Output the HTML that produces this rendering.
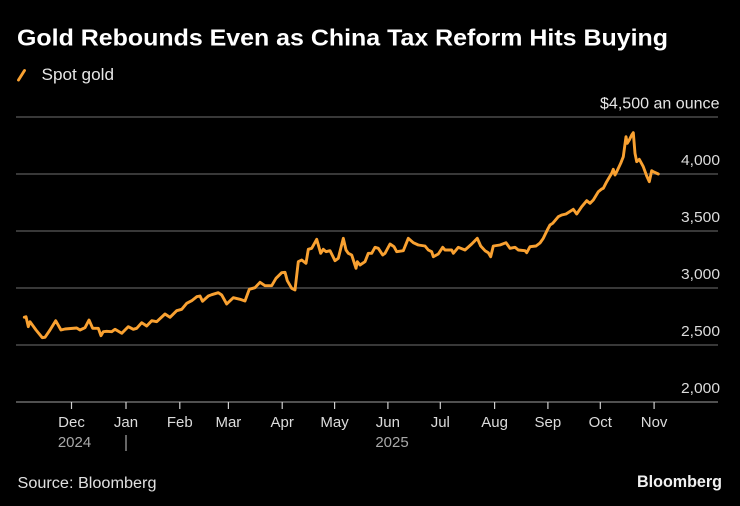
<!DOCTYPE html>
<html>
<head>
<meta charset="utf-8">
<style>
html,body{margin:0;padding:0;background:#000;}
svg{display:block;}
text{font-family:"Liberation Sans",sans-serif;}
</style>
</head>
<body>
<svg width="740" height="506" viewBox="0 0 740 506" xmlns="http://www.w3.org/2000/svg">
<rect width="740" height="506" fill="#000"/>
<text x="17" y="45.5" font-size="22.8" font-weight="bold" fill="#fff" textLength="651" lengthAdjust="spacingAndGlyphs">Gold Rebounds Even as China Tax Reform Hits Buying</text>
<line x1="18.5" y1="80" x2="24.5" y2="70.5" stroke="#f9a131" stroke-width="2.9" stroke-linecap="round"/>
<text x="41.5" y="80" font-size="16.3" fill="#e6e6e6" textLength="72.5" lengthAdjust="spacingAndGlyphs">Spot gold</text>
<text x="719.5" y="108.3" font-size="15.3" fill="#e6e6e6" text-anchor="end" textLength="119.5" lengthAdjust="spacingAndGlyphs">$4,500 an ounce</text>
<g stroke="#4a4a4a" stroke-width="1.6">
<line x1="16" y1="117" x2="718" y2="117"/>
<line x1="16" y1="174" x2="718" y2="174"/>
<line x1="16" y1="231" x2="718" y2="231"/>
<line x1="16" y1="288" x2="718" y2="288"/>
<line x1="16" y1="345" x2="718" y2="345"/>
</g>
<line x1="16" y1="402" x2="718" y2="402" stroke="#6a6a6a" stroke-width="1.6"/>
<g font-size="14.8" fill="#dcdcdc" text-anchor="end">
<text x="720" y="165" textLength="39" lengthAdjust="spacingAndGlyphs">4,000</text>
<text x="720" y="222" textLength="39" lengthAdjust="spacingAndGlyphs">3,500</text>
<text x="720" y="279" textLength="39" lengthAdjust="spacingAndGlyphs">3,000</text>
<text x="720" y="336" textLength="39" lengthAdjust="spacingAndGlyphs">2,500</text>
<text x="720" y="393" textLength="39" lengthAdjust="spacingAndGlyphs">2,000</text>
</g>
<g stroke="#cfcfcf" stroke-width="1.2">
<line x1="71.5" y1="402" x2="71.5" y2="409"/>
<line x1="126" y1="402" x2="126" y2="409"/>
<line x1="179.8" y1="402" x2="179.8" y2="409"/>
<line x1="228.4" y1="402" x2="228.4" y2="409"/>
<line x1="282.2" y1="402" x2="282.2" y2="409"/>
<line x1="334.6" y1="402" x2="334.6" y2="409"/>
<line x1="387.9" y1="402" x2="387.9" y2="409"/>
<line x1="440.3" y1="402" x2="440.3" y2="409"/>
<line x1="494.6" y1="402" x2="494.6" y2="409"/>
<line x1="547.9" y1="402" x2="547.9" y2="409"/>
<line x1="600.3" y1="402" x2="600.3" y2="409"/>
<line x1="654.1" y1="402" x2="654.1" y2="409"/>
<line x1="126" y1="435" x2="126" y2="451" stroke="#aaa"/>
</g>
<g font-size="15" fill="#dcdcdc" text-anchor="middle">
<text x="71.5" y="427">Dec</text>
<text x="126" y="427">Jan</text>
<text x="179.8" y="427">Feb</text>
<text x="228.4" y="427">Mar</text>
<text x="282.2" y="427">Apr</text>
<text x="334.6" y="427">May</text>
<text x="387.9" y="427">Jun</text>
<text x="440.3" y="427">Jul</text>
<text x="494.6" y="427">Aug</text>
<text x="547.9" y="427">Sep</text>
<text x="600.3" y="427">Oct</text>
<text x="654.1" y="427">Nov</text>
</g>
<g font-size="15" fill="#a8a8a8" text-anchor="middle">
<text x="74.5" y="447">2024</text>
<text x="392" y="447">2025</text>
</g>
<polyline fill="none" stroke="#f9a131" stroke-width="2.9" stroke-linejoin="round" stroke-linecap="round" points="
24.3,317.3 26,316.7 28.3,326.7 30,321.7 36,330 42.3,337.7 45,337.3 50,330 55.7,320.7 61,330 65,329 76.7,328 80,330 85,327.7 89,320 92.7,328.3 98.3,328.3 101,335.7 103.3,331.7 106.7,331.3 111.7,331.7 115,329.3 121.7,333.3 128.3,326.7 133.3,329.3 136.7,328.3 141.7,322.7 146.7,326 151.7,320.7 156.7,321.7 165,314 170,317.3 176.7,310.7 181.7,309.3 186.7,303.3 191.7,300.7 196.7,296.7 200,296 202.5,301.3 208.3,296 211.7,294.7 218.3,292.7 221.7,295 226.7,304 233.3,297.7 240,299.3 245,301 249.3,289.3 255,287.7 260,282.3 265,285.7 271.7,285.7 276,278.3 281.7,272.7 285,272.3 287.3,280.7 291.7,288.3 295,290 298.3,261.7 301.7,260 306,263.3 308.3,249.3 311.7,248.3 316.7,239.3 320.7,253.3 323.3,249.3 326,251.7 330,250.7 335,260.7 338.3,258.3 343.3,238.3 346,250 348.3,253.3 351.7,255 356,268.3 357.3,261.7 360,265 365,261.7 368.3,253.3 371.7,253.3 375,247.3 378.3,248.3 382.7,255 385,253.3 390,244 394,246.7 396.7,251.7 403.3,250.7 408.3,238.3 413.3,242.7 418.3,245 425,246 428.3,250 431.7,251.7 433.3,256.7 438.3,254 442.7,247.3 445,250 451.7,250 453.3,253.3 458.3,247.3 465,250 471.7,244 477.3,238.3 480.7,246 485,250.7 488.3,252.7 490.7,256.7 493.3,246 500,245 506,242.7 510,248.3 515,247.3 518.3,250 525,250.7 526.7,252.7 530,246.7 536,246 540,243 543.3,238.3 547.3,230 550,225 552.7,223.3 558.3,216.7 561.7,215 566,214 573.3,209.3 576.7,214 581.7,206.7 586.7,200.7 590,203.3 593.3,200 598.3,191.7 601.7,189 603.3,188.3 606.7,181.7 611.7,173.3 613.3,169.3 615,175 616.7,171.7 620.7,163.3 623.3,156.7 626,136.7 627.3,143.3 629.3,140 631.7,135 633.3,132.7 635,153.3 636.7,161.7 639.3,159.3 643.3,166.7 646.7,176 649.3,181.7 651.7,170.7 653.3,171.7 658.3,174"/>
<text x="17.5" y="488" font-size="15.3" fill="#e0e0e0" textLength="139" lengthAdjust="spacingAndGlyphs">Source: Bloomberg</text>
<text x="722" y="487" font-size="16.3" font-weight="bold" fill="#f0f0f0" text-anchor="end" textLength="85" lengthAdjust="spacingAndGlyphs">Bloomberg</text>
</svg>
</body>
</html>
